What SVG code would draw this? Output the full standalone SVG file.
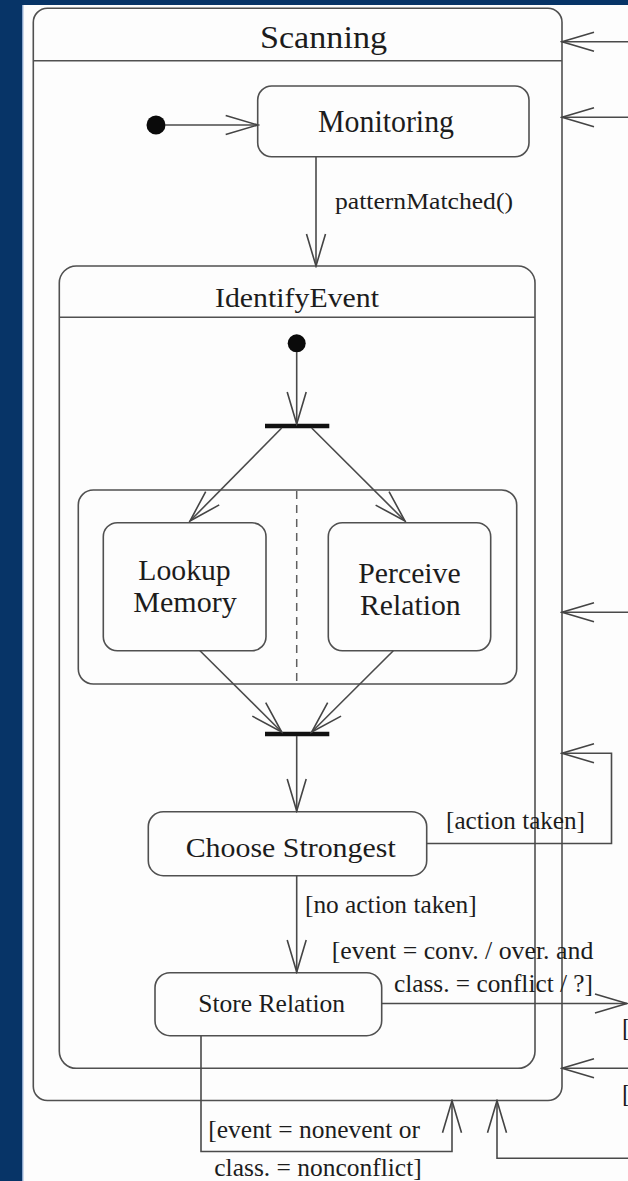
<svg xmlns="http://www.w3.org/2000/svg" width="628" height="1181" viewBox="0 0 628 1181">
  <defs>
    <style>
      .state{fill:none;stroke:#505050;stroke-width:1.6}
      .divider{fill:none;stroke:#505050;stroke-width:1.6}
      .swim{fill:none;stroke:#606060;stroke-width:1.5;stroke-dasharray:8 6}
      .edge{fill:none;stroke:#4a4a4a;stroke-width:1.6;marker-end:url(#open)}
      .bar{stroke:#111;stroke-width:4.5}
      .dot{fill:#0a0a0a}
      text{font-family:"Liberation Serif","Times New Roman",serif;fill:#1c1c1c}
    </style>
    <marker id="open" viewBox="-34 -12 36 24" refX="0" refY="0" markerWidth="36" markerHeight="24" markerUnits="userSpaceOnUse" orient="auto">
      <path d="M-32,-9.5 L0,0 L-32,9.5" fill="none" stroke="#444" stroke-width="1.6"/>
    </marker>
  </defs>

  <!-- page background and slide frame -->
  <rect x="0" y="0" width="628" height="1181" fill="#fdfdfd"/>
  <rect x="0" y="0" width="22" height="1181" fill="#073467"/>
  <rect x="0" y="0" width="628" height="5" fill="#073467"/>
  <line x1="22.7" y1="5" x2="22.7" y2="1181" stroke="#8aa6cc" stroke-width="1.4"/>

  <!-- composite state: Scanning -->
  <g id="scanning">
    <rect class="state" x="33.3" y="8.3" width="528.7" height="1092.2" rx="14"/>
    <line class="divider" x1="33.3" y1="60.7" x2="562" y2="60.7"/>
    <text x="260" y="48" font-size="32" textLength="127" lengthAdjust="spacingAndGlyphs">Scanning</text>
  </g>

  <g id="initial-scanning">
    <circle class="dot" cx="156" cy="125" r="9.5"/>
  </g>

  <g id="monitoring">
    <rect class="state" x="257.7" y="86" width="271.3" height="70.7" rx="14"/>
    <text x="318" y="131.5" font-size="31" textLength="136" lengthAdjust="spacingAndGlyphs">Monitoring</text>
  </g>

  <!-- composite state: IdentifyEvent -->
  <g id="identify-event">
    <rect class="state" x="59.3" y="266" width="475.7" height="802.3" rx="17"/>
    <line class="divider" x1="59.3" y1="317.3" x2="535" y2="317.3"/>
    <text x="215" y="306.5" font-size="28" textLength="164" lengthAdjust="spacingAndGlyphs">IdentifyEvent</text>
  </g>

  <g id="initial-identify">
    <circle class="dot" cx="296.7" cy="343.3" r="9"/>
  </g>

  <g id="fork">
    <line class="bar" x1="265" y1="426" x2="329.3" y2="426"/>
  </g>

  <!-- concurrent region with two parallel states -->
  <g id="concurrent-region">
    <rect class="state" x="78.3" y="490" width="438.4" height="194" rx="15"/>
    <line class="swim" x1="296.7" y1="491" x2="296.7" y2="683"/>
  </g>

  <g id="lookup-memory">
    <rect class="state" x="103.3" y="522.7" width="162.7" height="128" rx="14"/>
    <text x="138.3" y="580" font-size="29" textLength="92.4" lengthAdjust="spacingAndGlyphs">Lookup</text>
    <text x="133.3" y="611.5" font-size="29" textLength="103.4" lengthAdjust="spacingAndGlyphs">Memory</text>
  </g>

  <g id="perceive-relation">
    <rect class="state" x="328.3" y="522.7" width="162.4" height="128" rx="14"/>
    <text x="358.3" y="583" font-size="29" textLength="102.4" lengthAdjust="spacingAndGlyphs">Perceive</text>
    <text x="360" y="615" font-size="29" textLength="100.7" lengthAdjust="spacingAndGlyphs">Relation</text>
  </g>

  <g id="join">
    <line class="bar" x1="265" y1="734" x2="329.3" y2="734"/>
  </g>

  <g id="choose-strongest">
    <rect class="state" x="148.3" y="811.7" width="278.4" height="64" rx="15"/>
    <text x="185.7" y="856.5" font-size="28" textLength="210" lengthAdjust="spacingAndGlyphs">Choose Strongest</text>
  </g>

  <g id="store-relation">
    <rect class="state" x="155" y="972.7" width="226.7" height="63" rx="15"/>
    <text x="198.3" y="1011.5" font-size="25" textLength="146.7" lengthAdjust="spacingAndGlyphs">Store Relation</text>
  </g>

  <!-- transitions -->
  <g id="connectors">
    <path class="edge" d="M165,125 H257.7"/>
    <path class="edge" d="M316,156.7 V266"/>
    <path class="edge" d="M296.7,352 V424"/>
    <path class="edge" d="M281.7,428 L190,521"/>
    <path class="edge" d="M311.7,428 L405,521"/>
    <path class="edge" d="M200,650.7 L281.7,732"/>
    <path class="edge" d="M393.3,650.7 L311.7,732"/>
    <path class="edge" d="M296.7,736 V811"/>
    <path class="edge" d="M426.7,843.5 H611.5 V753.3 H562"/>
    <path class="edge" d="M296.7,875.7 V972"/>
    <path class="edge" d="M381.7,1003.5 H627"/>
    <path class="edge" d="M201,1035.7 V1151.5 H452 V1100.7"/>
    <path class="edge" d="M628,1158.3 H497 V1100.7"/>
    <path class="edge" d="M628,41.7 H562"/>
    <path class="edge" d="M628,117.3 H562"/>
    <path class="edge" d="M628,612.3 H562"/>
    <path class="edge" d="M628,1068.3 H562"/>
  </g>

  <!-- transition labels -->
  <g id="labels">
    <text x="335" y="208.5" font-size="24" textLength="178" lengthAdjust="spacingAndGlyphs">patternMatched()</text>
    <text x="446" y="829" font-size="25" textLength="139" lengthAdjust="spacingAndGlyphs">[action taken]</text>
    <text x="305" y="912.5" font-size="25" textLength="171.7" lengthAdjust="spacingAndGlyphs">[no action taken]</text>
    <text x="331.7" y="959" font-size="25" textLength="261.6" lengthAdjust="spacingAndGlyphs">[event = conv. / over. and</text>
    <text x="394" y="991.5" font-size="25" textLength="199" lengthAdjust="spacingAndGlyphs">class. = conflict / ?]</text>
    <text x="208.3" y="1137.5" font-size="25" textLength="211.7" lengthAdjust="spacingAndGlyphs">[event = nonevent or</text>
    <text x="214.3" y="1176" font-size="25" textLength="207.4" lengthAdjust="spacingAndGlyphs">class. = nonconflict]</text>
    <text x="622" y="1035.5" font-size="25">[</text>
    <text x="622" y="1102" font-size="25">[</text>
  </g>
</svg>
